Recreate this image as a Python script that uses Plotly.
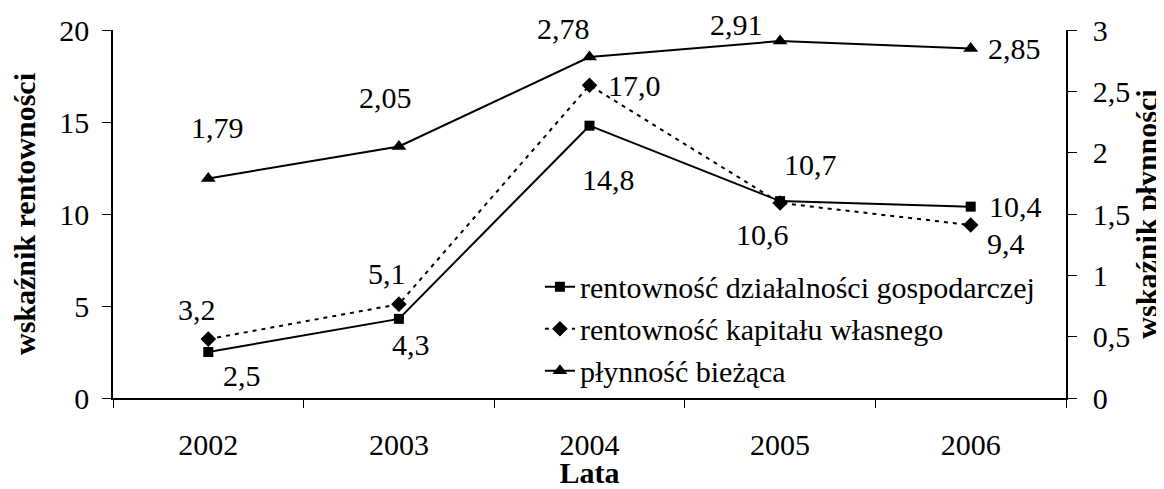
import plotly.graph_objects as go

years = ["2002", "2003", "2004", "2005", "2006"]
rent_dzial = [2.5, 4.3, 14.8, 10.7, 10.4]
rent_kap = [3.2, 5.1, 17.0, 10.6, 9.4]
plynnosc = [1.79, 2.05, 2.78, 2.91, 2.85]

names = ["rentowność działalności gospodarczej",
         "rentowność kapitału własnego",
         "płynność bieżąca"]

# label offsets in pixels (dx right, dy down)
off_dzial = [(34, 23), (12, 26), (19, 54), (30, -37), (45, 0)]
off_kap = [(-11, -30), (-12, -31), (45, 0), (-18, 32), (35, 18)]
off_pl = [(9, -51), (-13, -49), (-26, -28), (-44, -17), (44, 0)]

FONT = "Liberation Serif, Times New Roman, serif"
BLACK = "#000000"
FS = 30

fig = go.Figure()
fig.add_trace(go.Scatter(x=years, y=rent_dzial, name=names[0], mode="lines+markers",
                         line=dict(color=BLACK, width=2),
                         marker=dict(symbol="square", size=10, color=BLACK)))
fig.add_trace(go.Scatter(x=years, y=rent_kap, name=names[1], mode="lines+markers",
                         line=dict(color=BLACK, width=2, dash="4px,5px"),
                         marker=dict(symbol="diamond", size=12, color=BLACK)))
fig.add_trace(go.Scatter(x=years, y=plynnosc, name=names[2], mode="lines+markers",
                         yaxis="y2",
                         line=dict(color=BLACK, width=2),
                         marker=dict(symbol="triangle-up", size=13, color=BLACK)))

def fmt(v, d):
    return f"{v:.{d}f}".replace(".", ",")

anns = []
for vals, offs, yref, d in [(rent_dzial, off_dzial, "y", 1),
                             (rent_kap, off_kap, "y", 1),
                             (plynnosc, off_pl, "y2", 2)]:
    for i, (yv, (dx, dy)) in enumerate(zip(vals, offs)):
        anns.append(dict(x=i, y=yv, xref="x", yref=yref, text=fmt(yv, d),
                         showarrow=False, xshift=dx, yshift=-dy,
                         font=dict(family=FONT, size=FS, color=BLACK)))

tickfont = dict(family=FONT, size=FS, color=BLACK)
titlefont = dict(family=FONT, size=FS, color=BLACK, weight="bold")

fig.update_layout(
    width=1156, height=481,
    margin=dict(l=105, r=98, t=22, b=91, autoexpand=False),
    paper_bgcolor="white", plot_bgcolor="white",
    separators=", ",
    annotations=anns,
    showlegend=True,
    legend=dict(x=0.448, y=0.373, xanchor="left", yanchor="top",
                font=dict(family=FONT, size=FS, color=BLACK),
                bgcolor="rgba(0,0,0,0)", borderwidth=0, tracegroupgap=0),
    xaxis=dict(type="category", range=[-0.5, len(years) - 0.5],
               showline=True, linecolor=BLACK, linewidth=1.5,
               ticks="outside", ticklen=8, tickcolor=BLACK, tickwidth=1.2,
               tickson="boundaries", showgrid=False, zeroline=False,
               tickfont=tickfont, ticklabelstandoff=19, tickangle=0,
               title=dict(text="Lata", font=titlefont, standoff=11)),
    yaxis=dict(range=[0, 20], dtick=5, showline=True, linecolor=BLACK, linewidth=1.5,
               ticks="outside", ticklen=9, tickcolor=BLACK, tickwidth=1.2,
               showgrid=False, zeroline=False, tickfont=tickfont, ticklabelstandoff=7,
               title=dict(text="wskaźnik rentowności", font=titlefont, standoff=17)),
    yaxis2=dict(range=[0, 3], dtick=0.5, overlaying="y", side="right",
                showline=True, linecolor=BLACK, linewidth=1.5,
                ticks="outside", ticklen=9, tickcolor=BLACK, tickwidth=1.2,
                showgrid=False, zeroline=False, tickfont=tickfont, ticklabelstandoff=10,
                title=dict(text="wskaźnik płynności", font=titlefont, standoff=3)),
    yaxis3=dict(range=[0, 20], dtick=5, overlaying="y", side="left", anchor="x",
                showline=False, ticks="inside", ticklen=9, tickcolor=BLACK, tickwidth=1.2,
                showticklabels=False, showgrid=False, zeroline=False),
    yaxis4=dict(range=[0, 3], dtick=0.5, overlaying="y", side="right", anchor="x",
                showline=False, ticks="inside", ticklen=9, tickcolor=BLACK, tickwidth=1.2,
                showticklabels=False, showgrid=False, zeroline=False),
)

fig.write_html("out.html")
